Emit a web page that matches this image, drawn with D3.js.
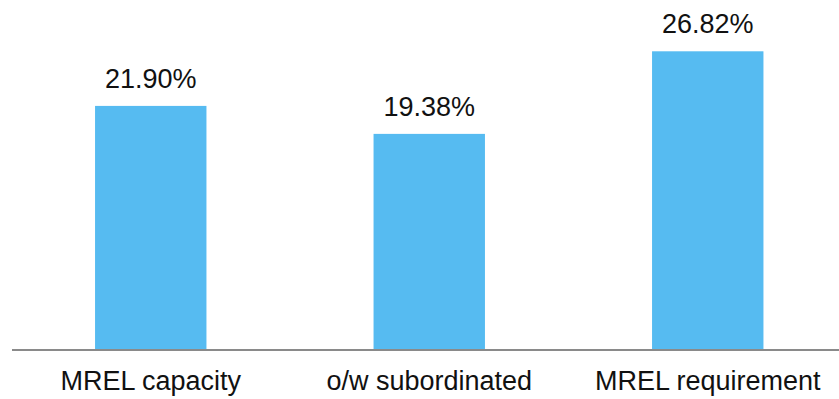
<!DOCTYPE html>
<html>
<head>
<meta charset="utf-8">
<script src="https://cdn.jsdelivr.net/npm/d3@7/dist/d3.min.js"></script>
<style>
  html, body { margin: 0; padding: 0; background: #fff; }
  svg { display: block; font-family: "Liberation Sans", Arial, sans-serif; }
</style>
</head>
<body>
<svg id="chart" width="839" height="399"></svg>
<script>
// MREL ratios
const categories = ["MREL capacity", "o/w subordinated", "MREL requirement"];
const values = [21.90, 19.38, 26.82];
const valueLabels = ["21.90%", "19.38%", "26.82%"];

const svg = d3.select("#chart");
const baseY = 349;

const x = d3.scaleBand()
  .domain(categories)
  .range([11.5, 847])
  .paddingInner(0.6)
  .paddingOuter(0.3);

const y = d3.scaleLinear()
  .domain([0, 30])
  .range([baseY, baseY - 333]);

// bars
svg.selectAll("rect.bar")
  .data(values)
  .join("rect")
  .attr("class", "bar")
  .attr("x", (d, i) => x(categories[i]))
  .attr("width", x.bandwidth())
  .attr("y", d => y(d))
  .attr("height", d => y(0) - y(d))
  .attr("fill", "#56bbf1");

// value labels above bars
svg.selectAll("text.value")
  .data(values)
  .join("text")
  .attr("class", "value")
  .attr("x", (d, i) => x(categories[i]) + x.bandwidth() / 2)
  .attr("y", d => y(d) - 18)
  .attr("text-anchor", "middle")
  .attr("font-size", 27)
  .attr("fill", "#111")
  .text((d, i) => valueLabels[i]);

// baseline axis with category labels
const axis = svg.append("g")
  .attr("transform", `translate(0,${baseY + 1})`)
  .call(d3.axisBottom(x).tickSize(0).tickPadding(21));
axis.select(".domain")
  .attr("d", "M12,0H839")
  .attr("stroke", "#8a8a8a")
  .attr("stroke-width", 2);
axis.selectAll("text")
  .attr("font-size", 27)
  .attr("font-family", "Liberation Sans, Arial, sans-serif")
  .attr("fill", "#111");
</script>
</body>
</html>
